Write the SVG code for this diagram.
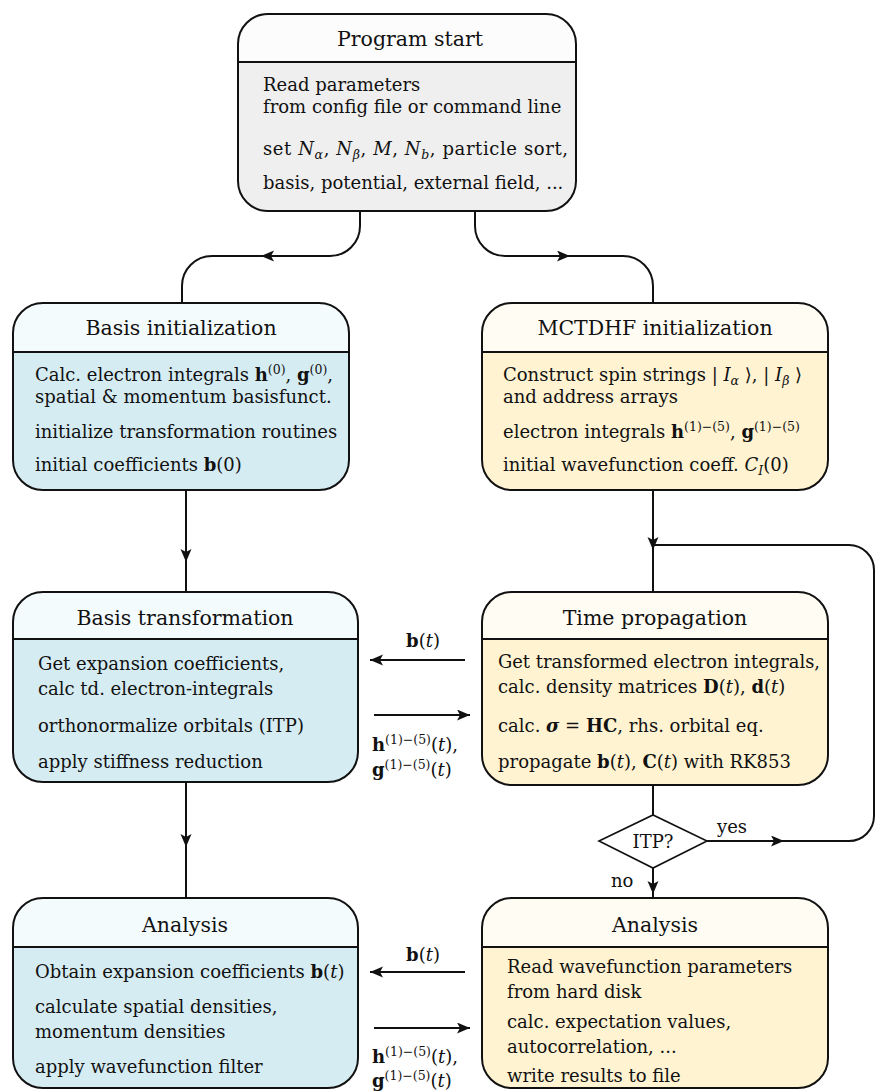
<svg xmlns="http://www.w3.org/2000/svg" width="875" height="1091" viewBox="0 0 875 1091">
<style>
text{font-family:"DejaVu Serif","Liberation Serif",serif;fill:#111}
.t{font-size:20.5px;text-anchor:middle}
.b{font-size:18px}
.l{font-size:18px}
.bf{font-weight:bold;font-style:normal}
.it{font-style:italic}
.bi{font-weight:bold;font-style:italic}
.box{stroke:#111;stroke-width:2}
.sep{stroke:#111;stroke-width:2}
.c{fill:none;stroke:#111;stroke-width:2}
.gt{fill:#fcfcfc}.gb{fill:#efefef}
.bt{fill:#f4fbfd}.bb{fill:#d6ecf3}
.yt{fill:#fffcf3}.yb{fill:#fff3d1}
</style>
<defs>
<marker id="ar" markerUnits="userSpaceOnUse" markerWidth="16" markerHeight="14" refX="13" refY="5.5" orient="auto">
<path d="M0,0 L13,5.5 L0,11 L3,5.5 z" fill="#111"/>
</marker>
<clipPath id="cPS"><rect x="238" y="14" width="338" height="197" rx="30"/></clipPath>
<clipPath id="cBI"><rect x="13" y="303" width="336" height="187" rx="30"/></clipPath>
<clipPath id="cMI"><rect x="482" y="303" width="346" height="187" rx="30"/></clipPath>
<clipPath id="cBT"><rect x="13" y="592" width="345" height="190" rx="30"/></clipPath>
<clipPath id="cTP"><rect x="482" y="592" width="346" height="193" rx="30"/></clipPath>
<clipPath id="cAL"><rect x="13" y="898" width="345" height="190" rx="30"/></clipPath>
<clipPath id="cAR"><rect x="482" y="898" width="346" height="190" rx="30"/></clipPath>
</defs>

<g id="connectors">
<path class="c" d="M360,211 V226 A30,30 0 0 1 330,256 H261" marker-end="url(#ar)"/>
<path class="c" d="M265,256 H212 A30,30 0 0 0 182,286 V303"/>
<path class="c" d="M475,211 V226 A30,30 0 0 0 505,256 H570" marker-end="url(#ar)"/>
<path class="c" d="M565,256 H623 A30,30 0 0 1 653,286 V303"/>
<path class="c" d="M186,490 V562" marker-end="url(#ar)"/>
<path class="c" d="M186,558 V592"/>
<path class="c" d="M653,490 V550" marker-end="url(#ar)"/>
<path class="c" d="M653,545 V592"/>
<path class="c" d="M707,841 H784" marker-end="url(#ar)"/>
<path class="c" d="M780,841 H849 A25,25 0 0 0 874,816 V570 A25,25 0 0 0 849,545 H653"/>
<path class="c" d="M653,785 V815"/>
<path class="c" d="M653,868 V894" marker-end="url(#ar)"/>
<path class="c" d="M653,890 V898"/>
<path class="c" d="M186,782 V847" marker-end="url(#ar)"/>
<path class="c" d="M186,843 V898"/>
<path class="c" d="M465,660 H370" marker-end="url(#ar)"/>
<path class="c" d="M374,715 H470" marker-end="url(#ar)"/>
<path class="c" d="M465,972 H370" marker-end="url(#ar)"/>
<path class="c" d="M374,1028 H470" marker-end="url(#ar)"/>
<text class="l" x="423" y="647" text-anchor="middle"><tspan class="bf">b</tspan>(<tspan class="it">t</tspan>)</text>
<text class="l" x="372" y="751"><tspan class="bf">h</tspan><tspan font-size="12.5" baseline-shift="7">(1)−(5)</tspan>(<tspan class="it">t</tspan>),</text>
<text class="l" x="372" y="776"><tspan class="bf">g</tspan><tspan font-size="12.5" baseline-shift="7">(1)−(5)</tspan>(<tspan class="it">t</tspan>)</text>
<text class="l" x="423" y="961" text-anchor="middle"><tspan class="bf">b</tspan>(<tspan class="it">t</tspan>)</text>
<text class="l" x="372" y="1063"><tspan class="bf">h</tspan><tspan font-size="12.5" baseline-shift="7">(1)−(5)</tspan>(<tspan class="it">t</tspan>),</text>
<text class="l" x="372" y="1087"><tspan class="bf">g</tspan><tspan font-size="12.5" baseline-shift="7">(1)−(5)</tspan>(<tspan class="it">t</tspan>)</text>
<text class="l" x="717" y="833">yes</text>
<text class="l" x="611" y="887">no</text>
</g>

<g id="itp">
<polygon points="599,841 653,815 707,841 653,868" fill="#fff" stroke="#111" stroke-width="1.6"/>
<text class="l" x="653" y="848" text-anchor="middle">ITP?</text>
</g>

<g id="program-start">
<g clip-path="url(#cPS)"><rect class="gt" x="238" y="14" width="338" height="48"/><rect class="gb" x="238" y="62" width="338" height="149"/></g>
<line class="sep" x1="238" y1="62" x2="576" y2="62"/>
<rect class="box" x="238" y="14" width="338" height="197" rx="30" fill="none"/>
<text class="t" x="410" y="46">Program start</text>
<text class="b" x="263" y="91">Read parameters</text>
<text class="b" x="263" y="113">from config file or command line</text>
<text class="b" x="263" y="155" textLength="305" lengthAdjust="spacing">set <tspan class="it">N</tspan><tspan font-size="12.5" baseline-shift="-4" class="it">α</tspan>, <tspan class="it">N</tspan><tspan font-size="12.5" baseline-shift="-4" class="it">β</tspan>, <tspan class="it">M</tspan>, <tspan class="it">N</tspan><tspan font-size="12.5" baseline-shift="-4" class="it">b</tspan>, particle sort,</text>
<text class="b" x="263" y="189">basis, potential, external field, ...</text>
</g>

<g id="basis-init">
<g clip-path="url(#cBI)"><rect class="bt" x="13" y="303" width="336" height="49"/><rect class="bb" x="13" y="352" width="336" height="138"/></g>
<line class="sep" x1="13" y1="352" x2="349" y2="352"/>
<rect class="box" x="13" y="303" width="336" height="187" rx="30" fill="none"/>
<text class="t" x="181" y="335">Basis initialization</text>
<text class="b" x="35" y="381">Calc. electron integrals <tspan class="bf">h</tspan><tspan font-size="12.5" baseline-shift="7">(0)</tspan>, <tspan class="bf">g</tspan><tspan font-size="12.5" baseline-shift="7">(0)</tspan>,</text>
<text class="b" x="35" y="403">spatial &amp; momentum basisfunct.</text>
<text class="b" x="35" y="438">initialize transformation routines</text>
<text class="b" x="35" y="471">initial coefficients <tspan class="bf">b</tspan>(0)</text>
</g>

<g id="mctdhf-init">
<g clip-path="url(#cMI)"><rect class="yt" x="482" y="303" width="346" height="49"/><rect class="yb" x="482" y="352" width="346" height="138"/></g>
<line class="sep" x1="482" y1="352" x2="828" y2="352"/>
<rect class="box" x="482" y="303" width="346" height="187" rx="30" fill="none"/>
<text class="t" x="655" y="335">MCTDHF initialization</text>
<text class="b" x="503" y="381">Construct spin strings | <tspan class="it">I</tspan><tspan font-size="12.5" baseline-shift="-4" class="it">α</tspan> ⟩, | <tspan class="it">I</tspan><tspan font-size="12.5" baseline-shift="-4" class="it">β</tspan> ⟩</text>
<text class="b" x="503" y="403">and address arrays</text>
<text class="b" x="503" y="438">electron integrals <tspan class="bf">h</tspan><tspan font-size="12.5" baseline-shift="7">(1)−(5)</tspan>, <tspan class="bf">g</tspan><tspan font-size="12.5" baseline-shift="7">(1)−(5)</tspan></text>
<text class="b" x="503" y="471">initial wavefunction coeff. <tspan class="it">C</tspan><tspan font-size="12.5" baseline-shift="-4" class="it">I</tspan>(0)</text>
</g>

<g id="basis-transformation">
<g clip-path="url(#cBT)"><rect class="bt" x="13" y="592" width="345" height="47"/><rect class="bb" x="13" y="639" width="345" height="143"/></g>
<line class="sep" x1="13" y1="639" x2="358" y2="639"/>
<rect class="box" x="13" y="592" width="345" height="190" rx="30" fill="none"/>
<text class="t" x="185" y="625">Basis transformation</text>
<text class="b" x="38" y="670">Get expansion coefficients,</text>
<text class="b" x="38" y="695">calc td. electron-integrals</text>
<text class="b" x="38" y="732">orthonormalize orbitals (ITP)</text>
<text class="b" x="38" y="768">apply stiffness reduction</text>
</g>

<g id="time-propagation">
<g clip-path="url(#cTP)"><rect class="yt" x="482" y="592" width="346" height="47"/><rect class="yb" x="482" y="639" width="346" height="146"/></g>
<line class="sep" x1="482" y1="639" x2="828" y2="639"/>
<rect class="box" x="482" y="592" width="346" height="193" rx="30" fill="none"/>
<text class="t" x="655" y="625">Time propagation</text>
<text class="b" x="498" y="668" textLength="322" lengthAdjust="spacingAndGlyphs">Get transformed electron integrals,</text>
<text class="b" x="498" y="693">calc. density matrices <tspan class="bf">D</tspan>(<tspan class="it">t</tspan>), <tspan class="bf">d</tspan>(<tspan class="it">t</tspan>)</text>
<text class="b" x="498" y="732">calc. <tspan class="bi">σ</tspan> = <tspan class="bf">HC</tspan>, rhs. orbital eq.</text>
<text class="b" x="498" y="768">propagate <tspan class="bf">b</tspan>(<tspan class="it">t</tspan>), <tspan class="bf">C</tspan>(<tspan class="it">t</tspan>) with RK853</text>
</g>

<g id="analysis-left">
<g clip-path="url(#cAL)"><rect class="bt" x="13" y="898" width="345" height="49"/><rect class="bb" x="13" y="947" width="345" height="141"/></g>
<line class="sep" x1="13" y1="947" x2="358" y2="947"/>
<rect class="box" x="13" y="898" width="345" height="190" rx="30" fill="none"/>
<text class="t" x="185" y="932">Analysis</text>
<text class="b" x="35" y="978">Obtain expansion coefficients <tspan class="bf">b</tspan>(<tspan class="it">t</tspan>)</text>
<text class="b" x="35" y="1013">calculate spatial densities,</text>
<text class="b" x="35" y="1038">momentum densities</text>
<text class="b" x="35" y="1073">apply wavefunction filter</text>
</g>

<g id="analysis-right">
<g clip-path="url(#cAR)"><rect class="yt" x="482" y="898" width="346" height="49"/><rect class="yb" x="482" y="947" width="346" height="141"/></g>
<line class="sep" x1="482" y1="947" x2="828" y2="947"/>
<rect class="box" x="482" y="898" width="346" height="190" rx="30" fill="none"/>
<text class="t" x="655" y="932">Analysis</text>
<text class="b" x="507" y="973">Read wavefunction parameters</text>
<text class="b" x="507" y="998">from hard disk</text>
<text class="b" x="507" y="1028">calc. expectation values,</text>
<text class="b" x="507" y="1053">autocorrelation, ...</text>
<text class="b" x="507" y="1082">write results to file</text>
</g>
</svg>
